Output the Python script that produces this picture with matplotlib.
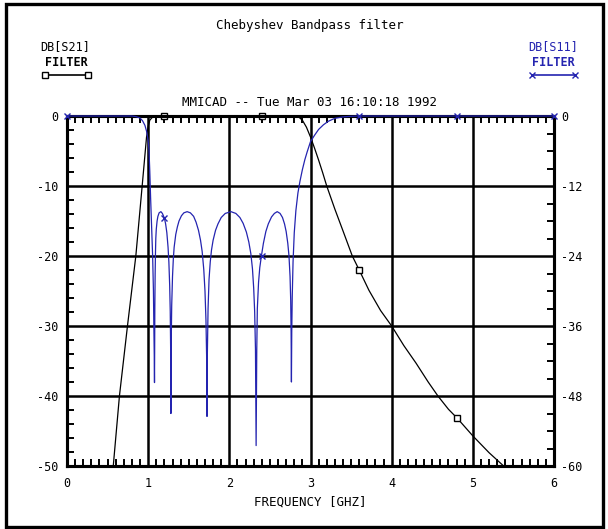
#!/usr/bin/env python3
"""Chebyshev bandpass filter - MMICAD style plot of S21 / S11."""

import matplotlib
matplotlib.use('Agg')
import matplotlib.pyplot as plt
from matplotlib.ticker import MultipleLocator
from matplotlib.patches import Rectangle

W, H = 608, 529
DPI = 100
FONT = "DejaVu Sans Mono"
BLUE = "#2424b0"

plt.rcParams["axes.unicode_minus"] = False

# DB[S21] (left axis, black)
s21_freq = [0.53, 0.57, 0.646, 0.745, 0.848, 0.926, 0.98, 1.0, 1.02, 1.05, 1.1, 1.2,
            2.4, 2.8, 2.85, 2.9, 2.95, 3.0, 3.05, 3.1, 3.15, 3.2, 3.3, 3.4,
            3.515, 3.6, 3.72, 3.864, 4.0, 4.15, 4.3, 4.45, 4.57, 4.7, 4.81,
            5.0, 5.2, 5.37, 5.5]
s21_db = [-55, -50, -40, -30, -20, -10, -3, -1.5, -0.6, -0.2, -0.05, 0,
          0, -0.05, -0.1, -0.6, -1.6, -3.0, -4.6, -6.3, -8.1, -10.0, -13.3, -16.4,
          -20.0, -22.0, -24.9, -27.8, -30.0, -32.8, -35.3, -38.0, -40.0, -41.9, -43.2,
          -45.7, -48.1, -49.9, -51.3]
s21_mark_freq = [1.2, 2.4, 3.6, 4.8]
s21_mark_db = [0, 0, -22.0, -43.1]

# DB[S11] (right axis, blue)
s11_freq = [0, 0.8, 0.85, 0.9, 0.93, 0.96, 0.98, 1.0, 1.01, 1.02, 1.03, 1.045,
            1.055, 1.065, 1.07, 1.075, 1.078,
            1.08, 1.082, 1.086, 1.09, 1.094, 1.1, 1.11, 1.12, 1.135, 1.157, 1.175,
            1.2, 1.215, 1.23, 1.245, 1.255, 1.265, 1.272, 1.277, 1.28,
            1.283, 1.29, 1.3, 1.31, 1.32, 1.34, 1.36, 1.38, 1.41, 1.44, 1.48, 1.52,
            1.56, 1.59, 1.62, 1.645, 1.665, 1.685, 1.7, 1.712, 1.72, 1.725,
            1.729, 1.738, 1.75, 1.765, 1.78, 1.8, 1.83, 1.86, 1.9, 1.95, 2.02, 2.08,
            2.13, 2.17, 2.21, 2.24, 2.265, 2.285, 2.3, 2.312, 2.322, 2.33,
            2.338, 2.345, 2.36, 2.375, 2.395, 2.42, 2.45, 2.48, 2.52, 2.555, 2.59,
            2.625, 2.655, 2.68, 2.7, 2.72, 2.735, 2.748, 2.756, 2.761, 2.765,
            2.769, 2.775, 2.785, 2.8, 2.82, 2.845, 2.87, 2.9, 2.93, 2.96, 3.0,
            3.05, 3.1, 3.16, 3.22, 3.3, 3.4, 3.5, 3.6, 6.0]
s11_db = [0, 0, -0.1, -0.35, -0.8, -1.6, -2.6, -4.2, -5.8, -9.5, -14, -20,
          -24, -30, -36, -41, -45.7,
          -40, -33, -27, -23.5, -21, -19.4, -18, -17.2, -16.6, -16.4, -16.7,
          -17.5, -18.5, -20, -22.5, -25, -29, -33.5, -40, -51,
          -40, -32.5, -27.5, -24.5, -22.5, -20.3, -19, -18, -17.1, -16.6, -16.4, -16.6,
          -17.2, -18.2, -19.6, -21.3, -23.2, -26.3, -30, -35, -41, -51.5,
          -41, -33, -28, -25, -23, -21.3, -19.6, -18.5, -17.4, -16.7, -16.4, -16.7,
          -17.4, -18.4, -19.9, -21.6, -23.6, -26.2, -29.5, -33.5, -40, -56.5,
          -40, -33, -28.5, -26, -24, -21.8, -19.8, -18.5, -17.3, -16.7, -16.4,
          -16.7, -17.4, -18.5, -19.8, -21.8, -24, -27.5, -31.5, -37, -45.6,
          -37, -31, -25, -20, -16.2, -13.2, -11.2, -9.2, -7.5, -6.1, -4.4,
          -3.3, -2.3, -1.5, -0.9, -0.4, -0.15, -0.05, 0, 0]
s11_mark_freq = [0, 1.2, 2.4, 3.6, 4.8, 6.0]
s11_mark_db = [0, -17.5, -24, 0, 0, 0]

x_ticks = [0, 1, 2, 3, 4, 5, 6]
left_ticks = [0, -10, -20, -30, -40, -50]
right_ticks = [0, -12, -24, -36, -48, -60]


def main():
    fig = plt.figure(figsize=(W / DPI, H / DPI), dpi=DPI)
    fig.patch.set_facecolor("white")

    # overlay in pixel coords for frame, titles and legend samples
    ov = fig.add_axes([0, 0, 1, 1])
    ov.set_xlim(0, W)
    ov.set_ylim(H, 0)
    ov.axis("off")
    ov.add_patch(Rectangle((6, 4), 597, 523, fill=False, edgecolor="black", lw=2.4))

    ax = fig.add_axes([67 / W, 1 - 466 / H, 487 / W, 350 / H])
    ax2 = ax.twinx()

    ax.set_xlim(0, 6)
    ax.set_ylim(-50, 0)
    ax2.set_ylim(-60, 0)

    ax.plot(s21_freq, s21_db, color="black", lw=0.9, zorder=3)
    ax.plot(s21_mark_freq, s21_mark_db, ls="none", marker="s", ms=5,
            mfc="white", mec="black", mew=1.0, clip_on=False, zorder=4)
    ax2.plot(s11_freq, s11_db, color=BLUE, lw=0.9, clip_on=False, zorder=3)
    ax2.plot(s11_mark_freq, s11_mark_db, ls="none", marker="x", ms=5,
             mec=BLUE, mew=1.0, clip_on=False, zorder=4)

    ax.set_xticks(x_ticks)
    ax.set_yticks(left_ticks)
    ax2.set_yticks(right_ticks)
    ax.xaxis.set_minor_locator(MultipleLocator(0.1))
    ax.yaxis.set_minor_locator(MultipleLocator(2))
    ax2.yaxis.set_minor_locator(MultipleLocator(3))

    ax.grid(which="major", color="black", lw=1.8)
    ax.tick_params(which="major", length=0, labelsize=8.5, labelfontfamily=FONT)
    ax.tick_params(axis="x", which="major", pad=8)
    ax.tick_params(axis="y", which="major", pad=6)
    ax.tick_params(which="minor", direction="in", length=5, width=1.4,
                   top=True, bottom=True, left=True, right=False)
    ax2.tick_params(which="major", length=0, pad=5, labelsize=8.5, labelfontfamily=FONT)
    ax2.tick_params(which="minor", direction="in", length=5, width=1.4)
    for a in (ax, ax2):
        for s in a.spines.values():
            s.set_linewidth(2.2)

    # texts
    ov.text(310, 25, "Chebyshev Bandpass filter", ha="center", va="center",
            fontsize=9, family=FONT)
    ov.text(310, 103, "MMICAD -- Tue Mar 03 16:10:18 1992", ha="center", va="center",
            fontsize=9, family=FONT)
    ov.text(310, 502, "FREQUENCY [GHZ]", ha="center", va="center",
            fontsize=9, family=FONT)

    ov.text(65, 47, "DB[S21]", ha="center", va="center", fontsize=8.5, family=FONT)
    ov.text(66, 63, "FILTER", ha="center", va="center", fontsize=8.5, family=FONT,
            fontweight="bold")
    ov.plot([45, 88], [75, 75], color="black", lw=1.2, marker="s", ms=5,
            mfc="white", mec="black", mew=1.0)

    ov.text(553, 47, "DB[S11]", ha="center", va="center", fontsize=8.5, family=FONT,
            color=BLUE)
    ov.text(553, 63, "FILTER", ha="center", va="center", fontsize=8.5, family=FONT,
            color=BLUE, fontweight="bold")
    ov.plot([532, 575], [75, 75], color=BLUE, lw=1.2, marker="x", ms=5, mew=1.0)

    fig.savefig("out.png", dpi=DPI, facecolor="white")
    plt.close(fig)


if __name__ == "__main__":
    main()
